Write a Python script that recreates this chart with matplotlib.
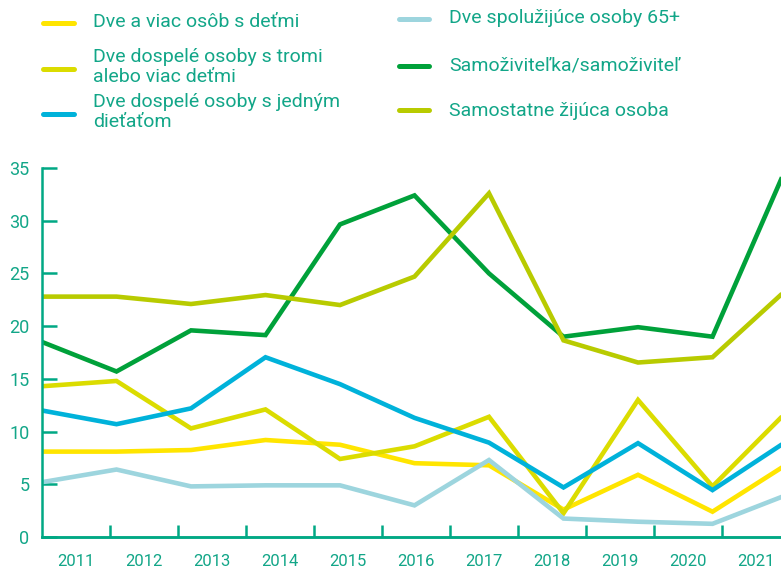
import matplotlib
matplotlib.use("Agg")
import matplotlib.pyplot as plt
from matplotlib.lines import Line2D
from matplotlib.ticker import FixedLocator, NullFormatter, FixedFormatter

plt.rcParams['font.family'] = ['Roboto', 'DejaVu Sans']

years = ["2011", "2012", "2013", "2014", "2015", "2016", "2017", "2018", "2019", "2020", "2021"]

labels = [
    "Dve a viac osôb s deťmi",
    "Dve dospelé osoby s tromi\nalebo viac deťmi",
    "Dve dospelé osoby s jedným\ndieťaťom",
    "Dve spolužijúce osoby 65+",
    "Samoživiteľka/samoživiteľ",
    "Samostatne žijúca osoba",
]

dve_a_viac = [8.1, 8.1, 8.25, 9.2, 8.75, 7.0, 6.8, 2.6, 5.9, 2.4, 6.9]
tromi = [14.3, 14.8, 10.3, 12.1, 7.4, 8.6, 11.4, 2.25, 13.0, 4.8, 11.9]
jednym = [12.0, 10.7, 12.2, 17.05, 14.5, 11.3, 8.95, 4.7, 8.9, 4.45, 9.1]
senior65 = [5.2, 6.4, 4.8, 4.9, 4.9, 3.0, 7.3, 1.75, 1.45, 1.25, 4.0]
samozivitel = [18.5, 15.7, 19.6, 19.15, 29.65, 32.4, 25.0, 19.0, 19.9, 19.0, 35.2]
samostatne = [22.8, 22.8, 22.1, 22.95, 22.0, 24.7, 32.6, 18.65, 16.55, 17.05, 23.5]

series = [dve_a_viac, tromi, jednym, senior65, samozivitel, samostatne]
colors = ["#ffe500", "#dbdc00", "#00b2da", "#9dd5de", "#00a13a", "#b8cb00"]

yticks = [0, 5, 10, 15, 20, 25, 30, 35]

axis_color = "#00a884"
text_color = "#12a688"

W, H = 781, 568
fig = plt.figure(figsize=(W / 100, H / 100), dpi=100)

x0, x1 = 42, 787
y0, y1 = 537, 168
ax = fig.add_axes([x0 / W, 1 - y0 / H, (x1 - x0) / W, (y0 - y1) / H])
ax.set_xlim(0, len(years) - 1)
ax.set_ylim(0, 35)

xs = list(range(len(years)))
for vals, c in zip(series, colors):
    ax.plot(xs, vals, color=c, lw=3.3, solid_joinstyle='miter', solid_capstyle='butt')

for s in ['top', 'right']:
    ax.spines[s].set_visible(False)
for s in ['left', 'bottom']:
    ax.spines[s].set_color(axis_color)
    ax.spines[s].set_linewidth(1.8)

ax.set_yticks(yticks)
ax.set_yticklabels([str(v) for v in yticks])
ax.tick_params(axis='y', direction='in', length=11, width=1.8, color=axis_color,
               labelcolor=text_color, labelsize=13, pad=9)
ax.tick_params(axis='x', bottom=False, labelbottom=False)

# category axis for year labels (bands of 68 px)
k = 74.5 / 68.0
sec = ax.secondary_xaxis('bottom', functions=(lambda x: x * k, lambda c: c / k))
sec.spines['bottom'].set_color(axis_color)
sec.spines['bottom'].set_linewidth(1.8)
sec.xaxis.set_major_locator(FixedLocator(list(range(1, len(years)))))
sec.xaxis.set_major_formatter(NullFormatter())
sec.xaxis.set_minor_locator(FixedLocator([i + 0.5 for i in range(len(years))]))
sec.xaxis.set_minor_formatter(FixedFormatter(years))
sec.tick_params(axis='x', which='major', direction='in', length=9, width=1.8, color=axis_color)
sec.tick_params(axis='x', which='minor', length=0, labelsize=12, labelcolor=text_color, pad=12)

# manual legend
left_items = [(0, 23, 22), (1, 69, 67), (2, 114, 112)]
right_items = [(3, 19, 18), (4, 66, 66), (5, 110, 111)]
for idx, ly, ty in left_items:
    fig.add_artist(Line2D([43 / W, 74 / W], [1 - ly / H, 1 - ly / H], transform=fig.transFigure,
                          color=colors[idx], lw=3.6, solid_capstyle='round'))
    fig.text(93 / W, 1 - ty / H, labels[idx], color=text_color, fontsize=14,
             ha='left', va='center', linespacing=1.2)
for idx, ly, ty in right_items:
    fig.add_artist(Line2D([399 / W, 429 / W], [1 - ly / H, 1 - ly / H], transform=fig.transFigure,
                          color=colors[idx], lw=3.6, solid_capstyle='round'))
    fig.text(449 / W, 1 - ty / H, labels[idx], color=text_color, fontsize=14,
             ha='left', va='center', linespacing=1.2)

fig.savefig("out.png", dpi=100)
